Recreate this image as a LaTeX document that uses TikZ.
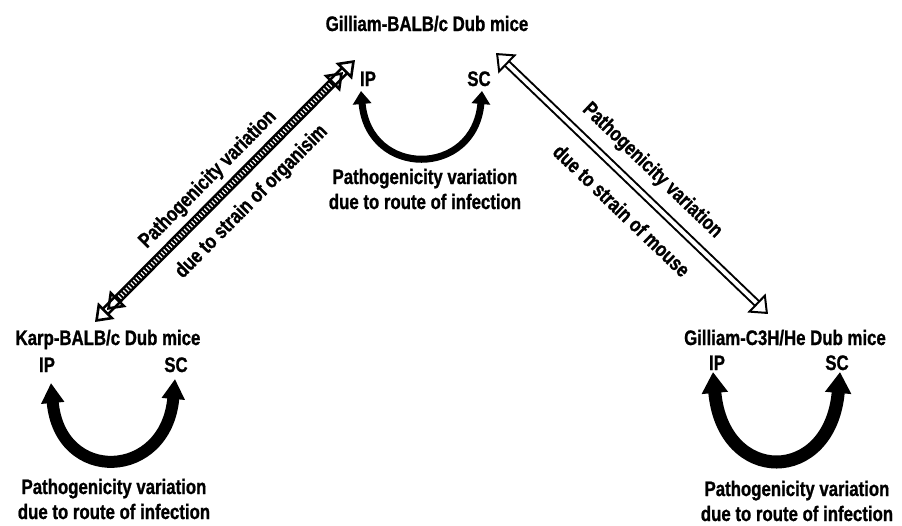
\documentclass[tikz,border=0pt]{standalone}
\usepackage{fontspec}
\setmainfont{Liberation Sans}[FakeStretch=0.8, BoldFeatures={FakeBold=1}]
\usetikzlibrary{arrows.meta, positioning}

\begin{document}
\begin{tikzpicture}[
    x=1pt, y=-1pt,
    every node/.style={font=\bfseries\fontsize{21}{25}\selectfont, inner sep=0pt},
    mice/.style={anchor=base},
    caption/.style={align=center},
    route/.style n args={3}{line width=#1, {Triangle[length=#2, width=#3]}-{Triangle[length=#2, width=#3]}},
    hatched/.style={line width=2.6pt, double=white, double distance=4.6pt,
        {Triangle[open, length=16pt, width=23pt, line width=2.6pt]}-{Triangle[open, length=16pt, width=23pt, line width=2.6pt]},
        postaction={draw, line width=5.6pt, dash pattern=on 2pt off 1.6pt, shorten <=17pt, shorten >=17pt}},
    hollow/.style={line width=2pt, double=white, double distance=4pt,
        {Triangle[open, length=16pt, width=26pt, line width=2pt]}-{Triangle[open, length=16pt, width=26pt, line width=2pt]}}
]
   \useasboundingbox (0,0) rectangle (902,525);

   % Gilliam-BALB/c (top)
   \node[mice] (gb)    at (427,31) {Gilliam-BALB/c Dub mice};
   \node[mice] (gb-ip) at (368,86) {IP};
   \node[mice] (gb-sc) at (479,86) {SC};
   \node[caption] (gb-route) at (425,189) {Pathogenicity variation\\due to route of infection};
   \coordinate (gb-ip-tip) at (361,91);
   \coordinate (gb-sc-tip) at (482,91);

   % Karp-BALB/c (left)
   \node[mice] (kb)    at (108,345) {Karp-BALB/c Dub mice};
   \node[mice] (kb-ip) at (47,372) {IP};
   \node[mice] (kb-sc) at (176,372) {SC};
   \node[caption] (kb-route) at (114,499) {Pathogenicity variation\\due to route of infection};
   \coordinate (kb-ip-tip) at (51,383);
   \coordinate (kb-sc-tip) at (175,379);

   % Gilliam-C3H/He (right)
   \node[mice] (gc)    at (785,345) {Gilliam-C3H/He Dub mice};
   \node[mice] (gc-ip) at (717,370) {IP};
   \node[mice] (gc-sc) at (837,370) {SC};
   \node[caption] (gc-route) at (797,501) {Pathogenicity variation\\due to route of infection};
   \coordinate (gc-ip-tip) at (713,372);
   \coordinate (gc-sc-tip) at (840,372);

   % ends of the strain arrows
   \coordinate (kb-end)   at (95,322);
   \coordinate (gb-left)  at (355,60);
   \coordinate (gb-right) at (496,53);
   \coordinate (gc-end)   at (768,314);

   % route of infection
   \draw[route={7pt}{13pt}{18pt}]  (gb-ip-tip) to[out=-85, in=-95, looseness=1.85] (gb-sc-tip);
   \draw[route={12pt}{20pt}{22pt}] (kb-ip-tip) to[out=-85, in=-95, looseness=2.1] (kb-sc-tip);
   \draw[route={13pt}{21pt}{25pt}] (gc-ip-tip) to[out=-85, in=-95, looseness=2.3] (gc-sc-tip);

   % strain of organism
   \draw[hatched] (kb-end) -- (gb-left)
     node[pos=.49, sloped, above=9pt] {Pathogenicity variation}
     node[pos=.53, sloped, below=15.5pt] {due to strain of organisim};

   % strain of mouse
   \draw[hollow] (gb-right) -- (gc-end)
     node[pos=.515, sloped, above=12.4pt] {Pathogenicity variation}
     node[pos=.53, sloped, below=17.8pt] {due to strain of mouse};

\end{tikzpicture}
\end{document}
